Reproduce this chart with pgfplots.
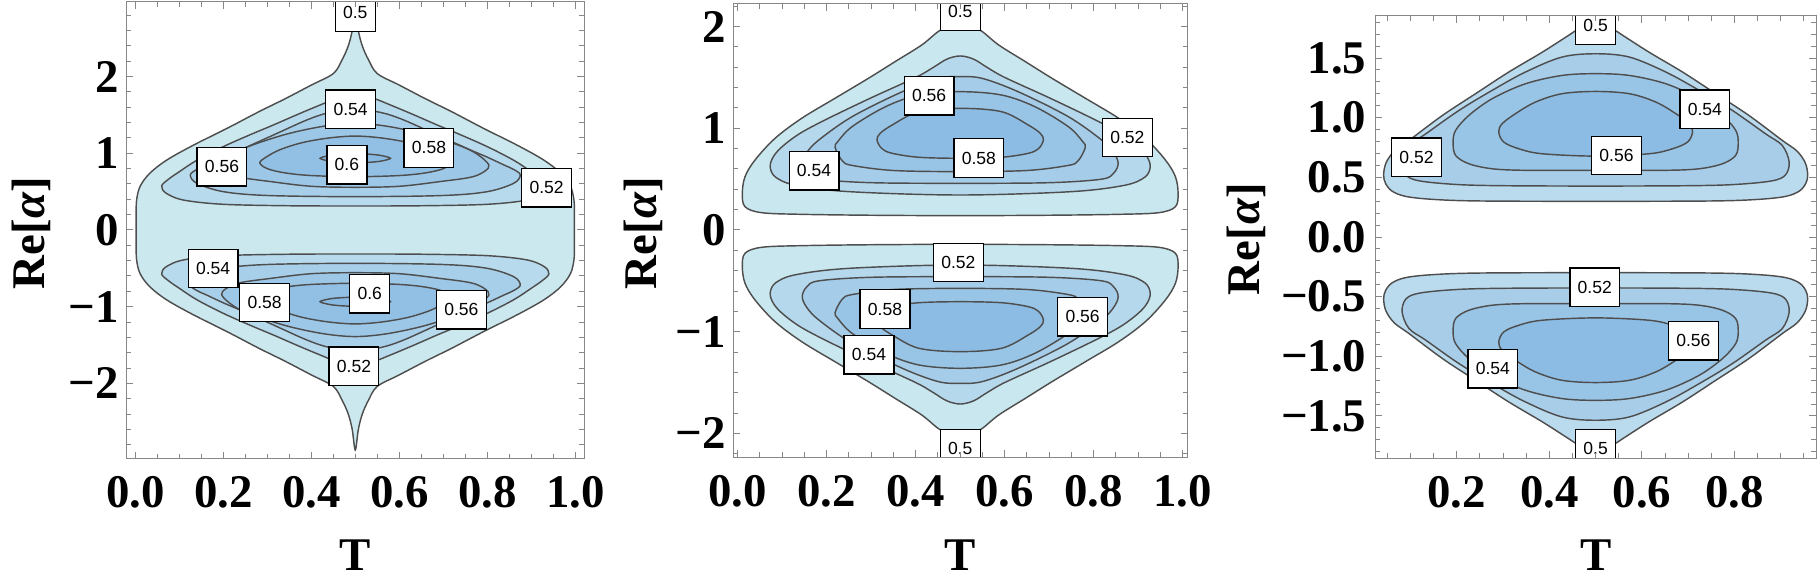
\documentclass[border=0pt]{standalone}
\usepackage{fontspec}
\setmainfont{Liberation Serif}
\newfontfamily\lblfont{Liberation Sans}
\usepackage{pgfplots}
\pgfplotsset{compat=1.18}

\definecolor{cl}{RGB}{78,78,78}
\definecolor{fr}{RGB}{135,135,135}
% panel 1
\definecolor{pa0}{RGB}{203,232,238}
\definecolor{pa1}{RGB}{183,218,237}
\definecolor{pa2}{RGB}{168,207,234}
\definecolor{pa3}{RGB}{156,199,231}
\definecolor{pa4}{RGB}{146,192,228}
\definecolor{pa5}{RGB}{136,185,226}
% panel 2
\definecolor{pb0}{RGB}{201,231,239}
\definecolor{pb1}{RGB}{181,216,236}
\definecolor{pb2}{RGB}{165,205,233}
\definecolor{pb3}{RGB}{152,196,230}
\definecolor{pb4}{RGB}{140,188,227}
% panel 3
\definecolor{pc0}{RGB}{186,218,238}
\definecolor{pc1}{RGB}{167,205,233}
\definecolor{pc2}{RGB}{152,196,230}
\definecolor{pc3}{RGB}{140,188,227}

\tikzset{lbl/.style={draw=black, fill=white, line width=0.65bp,
  font=\lblfont\fontsize{8.8}{10}\selectfont, inner xsep=3.9bp, inner ysep=0pt,
  minimum height=19.2bp}}

\pgfplotsset{
  cp/.style={
    scale only axis, anchor=south west,
    axis line style={fr, line width=0.5bp},
    every tick/.style={fr, line width=0.5bp},
    major tick length=3.5bp, minor tick length=2.5bp,
    tick align=inside,
    tick label style={font=\fontsize{23.5}{28}\selectfont\bfseries, inner sep=0pt},
    xticklabel style={anchor=center, yshift=-17bp},
    yticklabel style={anchor=east, xshift=-3.5bp},
    label style={font=\fontsize{23.5}{28}\selectfont\bfseries, inner sep=0pt},
    xlabel={T}, ylabel={Re[\textit{α}]},
    axis on top,
  },
  ctr/.style={draw=cl, line width=0.72bp, smooth cycle, tension=0.55, fill=#1},
}

\begin{document}
\begin{tikzpicture}
%================ Panel 1 ================
\begin{axis}[cp,
  at={(63bp,-229.35bp)}, width=229.15bp, height=228.6bp,
  xmin=-0.0211, xmax=1.0205, ymin=-2.983, ymax=2.980,
  xtick={0,0.2,0.4,0.6,0.8,1}, xticklabels={0.0,0.2,0.4,0.6,0.8,1.0},
  ytick={-2,-1,0,1,2}, yticklabels={−2,−1,0,1,2},
  minor xtick={0,0.05,...,1}, minor ytick={-2.8,-2.6,...,2.8},
  xlabel style={at={(axis description cs:0.5,-0.2106)}, anchor=center},
  ylabel style={at={(axis description cs:-0.2073,0.4937)}, anchor=center},
]
\addplot[ctr=pa0] coordinates {(0.5,2.88) (0.507,2.6) (0.516,2.4) (0.53,2.22) (0.55,2.04) (0.60,1.89) (0.66,1.71) (0.72,1.54) (0.79,1.33) (0.87,1.10) (0.929,0.91) (0.967,0.74) (0.989,0.57) (0.997,0.39) (0.998,0.2) (0.998,0) (0.998,-0.2) (0.997,-0.39) (0.989,-0.57) (0.967,-0.74) (0.929,-0.91) (0.87,-1.10) (0.79,-1.33) (0.72,-1.54) (0.66,-1.71) (0.60,-1.89) (0.55,-2.04) (0.53,-2.22) (0.516,-2.4) (0.507,-2.6) (0.5,-2.87) (0.493,-2.6) (0.484,-2.4) (0.47,-2.22) (0.45,-2.04) (0.40,-1.89) (0.34,-1.71) (0.28,-1.54) (0.21,-1.33) (0.13,-1.10) (0.071,-0.91) (0.033,-0.74) (0.011,-0.57) (0.003,-0.39) (0.002,-0.2) (0.002,0) (0.002,0.2) (0.003,0.39) (0.011,0.57) (0.033,0.74) (0.071,0.91) (0.13,1.10) (0.21,1.33) (0.28,1.54) (0.34,1.71) (0.40,1.89) (0.45,2.04) (0.47,2.22) (0.484,2.4) (0.493,2.6)};
% upper lobe
\addplot[ctr=pa1] coordinates {(0.060,0.574) (0.075,0.66) (0.10,0.76) (0.14,0.91) (0.20,1.087) (0.26,1.24) (0.314,1.37) (0.37,1.51) (0.42,1.63) (0.46,1.72) (0.5,1.765) (0.54,1.72) (0.58,1.63) (0.63,1.51) (0.686,1.37) (0.74,1.24) (0.80,1.087) (0.86,0.91) (0.90,0.76) (0.925,0.66) (0.940,0.574) (0.93,0.48) (0.89,0.39) (0.80,0.335) (0.65,0.316) (0.5,0.313) (0.35,0.316) (0.20,0.335) (0.11,0.39) (0.07,0.48)};
\addplot[ctr=pa2] coordinates {(0.125,0.717) (0.14,0.79) (0.162,0.848) (0.20,0.95) (0.238,1.043) (0.314,1.239) (0.39,1.435) (0.44,1.53) (0.5,1.575) (0.56,1.53) (0.61,1.435) (0.686,1.239) (0.762,1.043) (0.80,0.95) (0.838,0.848) (0.86,0.79) (0.875,0.717) (0.86,0.609) (0.80,0.50) (0.70,0.45) (0.5,0.435) (0.30,0.45) (0.20,0.50) (0.14,0.609)};
\addplot[ctr=pa3] coordinates {(0.198,0.804) (0.202,0.891) (0.232,1.021) (0.277,1.13) (0.35,1.26) (0.43,1.355) (0.5,1.39) (0.57,1.355) (0.65,1.26) (0.723,1.13) (0.768,1.021) (0.798,0.891) (0.802,0.804) (0.768,0.696) (0.692,0.631) (0.6,0.57) (0.5,0.557) (0.4,0.57) (0.308,0.631) (0.232,0.696)};
\addplot[ctr=pa4] coordinates {(0.283,0.878) (0.30,0.96) (0.33,1.05) (0.38,1.14) (0.44,1.20) (0.5,1.225) (0.56,1.20) (0.62,1.14) (0.67,1.05) (0.70,0.96) (0.717,0.878) (0.70,0.80) (0.66,0.745) (0.60,0.71) (0.5,0.695) (0.40,0.71) (0.34,0.745) (0.30,0.80)};
\addplot[ctr=pa5] coordinates {(0.42,0.935) (0.44,0.97) (0.465,0.987) (0.5,0.995) (0.535,0.987) (0.56,0.97) (0.58,0.935) (0.56,0.90) (0.535,0.884) (0.5,0.877) (0.465,0.884) (0.44,0.90)};
% lower lobe
\addplot[ctr=pa1] coordinates {(0.060,-0.574) (0.075,-0.66) (0.10,-0.76) (0.14,-0.91) (0.20,-1.087) (0.26,-1.24) (0.314,-1.37) (0.37,-1.51) (0.42,-1.63) (0.46,-1.72) (0.5,-1.765) (0.54,-1.72) (0.58,-1.63) (0.63,-1.51) (0.686,-1.37) (0.74,-1.24) (0.80,-1.087) (0.86,-0.91) (0.90,-0.76) (0.925,-0.66) (0.940,-0.574) (0.93,-0.48) (0.89,-0.39) (0.80,-0.335) (0.65,-0.316) (0.5,-0.313) (0.35,-0.316) (0.20,-0.335) (0.11,-0.39) (0.07,-0.48)};
\addplot[ctr=pa2] coordinates {(0.125,-0.717) (0.14,-0.79) (0.162,-0.848) (0.20,-0.95) (0.238,-1.043) (0.314,-1.239) (0.39,-1.435) (0.44,-1.53) (0.5,-1.575) (0.56,-1.53) (0.61,-1.435) (0.686,-1.239) (0.762,-1.043) (0.80,-0.95) (0.838,-0.848) (0.86,-0.79) (0.875,-0.717) (0.86,-0.609) (0.80,-0.50) (0.70,-0.45) (0.5,-0.435) (0.30,-0.45) (0.20,-0.50) (0.14,-0.609)};
\addplot[ctr=pa3] coordinates {(0.198,-0.804) (0.202,-0.891) (0.232,-1.021) (0.277,-1.13) (0.35,-1.26) (0.43,-1.355) (0.5,-1.39) (0.57,-1.355) (0.65,-1.26) (0.723,-1.13) (0.768,-1.021) (0.798,-0.891) (0.802,-0.804) (0.768,-0.696) (0.692,-0.631) (0.6,-0.57) (0.5,-0.557) (0.4,-0.57) (0.308,-0.631) (0.232,-0.696)};
\addplot[ctr=pa4] coordinates {(0.283,-0.878) (0.30,-0.96) (0.33,-1.05) (0.38,-1.14) (0.44,-1.20) (0.5,-1.225) (0.56,-1.20) (0.62,-1.14) (0.67,-1.05) (0.70,-0.96) (0.717,-0.878) (0.70,-0.80) (0.66,-0.745) (0.60,-0.71) (0.5,-0.695) (0.40,-0.71) (0.34,-0.745) (0.30,-0.80)};
\addplot[ctr=pa5] coordinates {(0.42,-0.935) (0.44,-0.97) (0.465,-0.987) (0.5,-0.995) (0.535,-0.987) (0.56,-0.97) (0.58,-0.935) (0.56,-0.90) (0.535,-0.884) (0.5,-0.877) (0.465,-0.884) (0.44,-0.90)};
\begin{scope}
\clip (rel axis cs:0,0) rectangle (rel axis cs:1,1);
\node[lbl] at (axis cs:0.5,2.84) {0.5};
\node[lbl] at (axis cs:0.4895,1.574) {0.54};
\node[lbl] at (axis cs:0.197,0.826) {0.56};
\node[lbl] at (axis cs:0.481,0.852) {0.6};
\node[lbl] at (axis cs:0.6675,1.07) {0.58};
\node[lbl] at (axis cs:0.935,0.552) {0.52};
\node[lbl] at (axis cs:0.177,-0.504) {0.54};
\node[lbl] at (axis cs:0.294,-0.945) {0.58};
\node[lbl] at (axis cs:0.533,-0.834) {0.6};
\node[lbl] at (axis cs:0.741,-1.042) {0.56};
\node[lbl] at (axis cs:0.497,-1.775) {0.52};
\end{scope}
\end{axis}

%================ Panel 2 ================
\begin{axis}[cp,
  at={(366.65bp,-228.65bp)}, width=227.2bp, height=226.65bp,
  xmin=-0.0099, xmax=1.0112, ymin=-2.235, ymax=2.222,
  xtick={0,0.2,0.4,0.6,0.8,1}, xticklabels={0.0,0.2,0.4,0.6,0.8,1.0},
  ytick={-2,-1,0,1,2}, yticklabels={−2,−1,0,1,2},
  minor xtick={0,0.05,...,1}, minor ytick={-2.2,-2.0,...,2.2},
  xlabel style={at={(axis description cs:0.5,-0.2155)}, anchor=center},
  ylabel style={at={(axis description cs:-0.1987,0.4948)}, anchor=center},
]
% upper lobe
\addplot[ctr=pb0] coordinates {(0.5,2.10) (0.525,2.01) (0.55,1.95) (0.5865,1.819) (0.6465,1.655) (0.7064,1.491) (0.7814,1.295) (0.8563,1.098) (0.9162,0.901) (0.9611,0.688) (0.9836,0.524) (0.9896,0.361) (0.9836,0.229) (0.946,0.170) (0.8563,0.154) (0.7,0.145) (0.5,0.141) (0.3,0.145) (0.1437,0.154) (0.054,0.170) (0.0164,0.229) (0.0104,0.361) (0.0164,0.524) (0.0389,0.688) (0.0838,0.901) (0.1437,1.098) (0.2186,1.295) (0.2936,1.491) (0.3535,1.655) (0.4135,1.819) (0.45,1.95) (0.475,2.01)};
\addplot[ctr=pb1] coordinates {(0.073,0.62) (0.08,0.72) (0.10,0.82) (0.14,0.95) (0.2,1.09) (0.3,1.30) (0.4,1.50) (0.44,1.60) (0.47,1.68) (0.5,1.711) (0.53,1.68) (0.56,1.60) (0.6,1.50) (0.7,1.30) (0.8,1.09) (0.86,0.95) (0.90,0.82) (0.92,0.72) (0.927,0.62) (0.915,0.52) (0.87,0.44) (0.75,0.377) (0.5,0.344) (0.25,0.377) (0.13,0.44) (0.085,0.52)};
\addplot[ctr=pb2] coordinates {(0.145,0.655) (0.155,0.76) (0.182,0.884) (0.257,1.114) (0.37,1.36) (0.45,1.49) (0.5,1.508) (0.55,1.49) (0.63,1.36) (0.743,1.114) (0.818,0.884) (0.845,0.76) (0.855,0.655) (0.845,0.56) (0.818,0.50) (0.7,0.465) (0.5,0.459) (0.3,0.465) (0.182,0.50) (0.155,0.56)};
\addplot[ctr=pb3] coordinates {(0.219,0.81) (0.225,0.87) (0.257,1.016) (0.332,1.212) (0.407,1.327) (0.5,1.36) (0.593,1.327) (0.668,1.212) (0.743,1.016) (0.775,0.87) (0.781,0.81) (0.765,0.68) (0.743,0.635) (0.65,0.585) (0.5,0.574) (0.35,0.585) (0.257,0.635) (0.235,0.68)};
\addplot[ctr=pb4] coordinates {(0.313,0.885) (0.32,0.95) (0.347,1.032) (0.407,1.163) (0.5,1.196) (0.593,1.163) (0.653,1.032) (0.680,0.95) (0.687,0.885) (0.676,0.80) (0.653,0.754) (0.593,0.715) (0.5,0.705) (0.407,0.715) (0.347,0.754) (0.324,0.80)};
% lower lobe
\addplot[ctr=pb0] coordinates {(0.5,-2.10) (0.525,-2.01) (0.55,-1.95) (0.5865,-1.819) (0.6465,-1.655) (0.7064,-1.491) (0.7814,-1.295) (0.8563,-1.098) (0.9162,-0.901) (0.9611,-0.688) (0.9836,-0.524) (0.9896,-0.361) (0.9836,-0.229) (0.946,-0.170) (0.8563,-0.154) (0.7,-0.145) (0.5,-0.141) (0.3,-0.145) (0.1437,-0.154) (0.054,-0.170) (0.0164,-0.229) (0.0104,-0.361) (0.0164,-0.524) (0.0389,-0.688) (0.0838,-0.901) (0.1437,-1.098) (0.2186,-1.295) (0.2936,-1.491) (0.3535,-1.655) (0.4135,-1.819) (0.45,-1.95) (0.475,-2.01)};
\addplot[ctr=pb1] coordinates {(0.073,-0.62) (0.08,-0.72) (0.10,-0.82) (0.14,-0.95) (0.2,-1.09) (0.3,-1.30) (0.4,-1.50) (0.44,-1.60) (0.47,-1.68) (0.5,-1.711) (0.53,-1.68) (0.56,-1.60) (0.6,-1.50) (0.7,-1.30) (0.8,-1.09) (0.86,-0.95) (0.90,-0.82) (0.92,-0.72) (0.927,-0.62) (0.915,-0.52) (0.87,-0.44) (0.75,-0.377) (0.5,-0.344) (0.25,-0.377) (0.13,-0.44) (0.085,-0.52)};
\addplot[ctr=pb2] coordinates {(0.145,-0.655) (0.155,-0.76) (0.182,-0.884) (0.257,-1.114) (0.37,-1.36) (0.45,-1.49) (0.5,-1.508) (0.55,-1.49) (0.63,-1.36) (0.743,-1.114) (0.818,-0.884) (0.845,-0.76) (0.855,-0.655) (0.845,-0.56) (0.818,-0.50) (0.7,-0.465) (0.5,-0.459) (0.3,-0.465) (0.182,-0.50) (0.155,-0.56)};
\addplot[ctr=pb3] coordinates {(0.219,-0.81) (0.225,-0.87) (0.257,-1.016) (0.332,-1.212) (0.407,-1.327) (0.5,-1.36) (0.593,-1.327) (0.668,-1.212) (0.743,-1.016) (0.775,-0.87) (0.781,-0.81) (0.765,-0.68) (0.743,-0.635) (0.65,-0.585) (0.5,-0.574) (0.35,-0.585) (0.257,-0.635) (0.235,-0.68)};
\addplot[ctr=pb4] coordinates {(0.313,-0.885) (0.32,-0.95) (0.347,-1.032) (0.407,-1.163) (0.5,-1.196) (0.593,-1.163) (0.653,-1.032) (0.680,-0.95) (0.687,-0.885) (0.676,-0.80) (0.653,-0.754) (0.593,-0.715) (0.5,-0.705) (0.407,-0.715) (0.347,-0.754) (0.324,-0.80)};
\begin{scope}
\clip (rel axis cs:0,0) rectangle (rel axis cs:1,1);
\node[lbl] at (axis cs:0.5,2.15) {0.5};
\node[lbl] at (axis cs:0.43,1.318) {0.56};
\node[lbl] at (axis cs:0.1715,0.583) {0.54};
\node[lbl] at (axis cs:0.542,0.708) {0.58};
\node[lbl] at (axis cs:0.8755,0.908) {0.52};
\node[lbl] at (axis cs:0.496,-0.321) {0.52};
\node[lbl] at (axis cs:0.331,-0.777) {0.58};
\node[lbl] at (axis cs:0.775,-0.854) {0.56};
\node[lbl] at (axis cs:0.295,-1.226) {0.54};
\node[lbl] at (axis cs:0.5,-2.15) {0.5};
\end{scope}
\end{axis}

%================ Panel 3 ================
\begin{axis}[cp,
  at={(687.65bp,-229.15bp)}, width=220.35bp, height=221.3bp,
  xmin=0.024, xmax=0.976, ymin=-1.855, ymax=1.855,
  xtick={0.2,0.4,0.6,0.8}, xticklabels={0.2,0.4,0.6,0.8},
  ytick={-1.5,-1,-0.5,0,0.5,1,1.5}, yticklabels={−1.5,−1.0,−0.5,0.0,0.5,1.0,1.5},
  minor xtick={0.05,0.1,...,0.95}, minor ytick={-1.8,-1.7,...,1.8},
  yticklabel style={xshift=-0.8bp},
  xlabel style={at={(axis description cs:0.5,-0.2185)}, anchor=center},
  ylabel style={at={(axis description cs:-0.2934,0.4955)}, anchor=center},
]
% upper lobe
\addplot[ctr=pc0] coordinates {(0.5,1.80) (0.54,1.735) (0.559,1.689) (0.6154,1.549) (0.688,1.382) (0.7595,1.201) (0.831,1.019) (0.903,0.81) (0.935,0.72) (0.953,0.62) (0.958,0.52) (0.954,0.45) (0.94,0.385) (0.91,0.34) (0.85,0.315) (0.75,0.302) (0.5,0.299) (0.25,0.302) (0.15,0.315) (0.09,0.34) (0.06,0.385) (0.046,0.45) (0.042,0.52) (0.047,0.62) (0.065,0.72) (0.097,0.81) (0.169,1.019) (0.2405,1.201) (0.312,1.382) (0.3846,1.549) (0.441,1.689) (0.46,1.735)};
\addplot[ctr=pc1] coordinates {(0.082,0.63) (0.097,0.768) (0.133,0.865) (0.2047,1.061) (0.2763,1.229) (0.348,1.382) (0.427,1.508) (0.5,1.536) (0.573,1.508) (0.652,1.382) (0.7237,1.229) (0.7953,1.061) (0.867,0.865) (0.903,0.768) (0.918,0.63) (0.91,0.52) (0.88,0.47) (0.8,0.44) (0.7,0.43) (0.5,0.427) (0.3,0.43) (0.2,0.44) (0.12,0.47) (0.09,0.52)};
\addplot[ctr=pc2] coordinates {(0.192,0.79) (0.1975,0.894) (0.226,1.019) (0.2763,1.159) (0.348,1.284) (0.427,1.354) (0.5,1.369) (0.573,1.354) (0.652,1.284) (0.7237,1.159) (0.774,1.019) (0.8025,0.894) (0.808,0.79) (0.8025,0.684) (0.774,0.614) (0.7237,0.572) (0.652,0.559) (0.5,0.559) (0.348,0.559) (0.2763,0.572) (0.226,0.614) (0.1975,0.684)};
\addplot[ctr=pc3] coordinates {(0.2907,0.88) (0.2979,0.949) (0.3265,1.033) (0.37,1.131) (0.427,1.201) (0.5,1.22) (0.573,1.201) (0.63,1.131) (0.6735,1.033) (0.7021,0.949) (0.7093,0.88) (0.6986,0.796) (0.6663,0.74) (0.6161,0.698) (0.5,0.678) (0.3839,0.698) (0.3337,0.74) (0.3014,0.796)};
% lower lobe
\addplot[ctr=pc0] coordinates {(0.5,-1.80) (0.54,-1.735) (0.559,-1.689) (0.6154,-1.549) (0.688,-1.382) (0.7595,-1.201) (0.831,-1.019) (0.903,-0.81) (0.935,-0.72) (0.953,-0.62) (0.958,-0.52) (0.954,-0.45) (0.94,-0.385) (0.91,-0.34) (0.85,-0.315) (0.75,-0.302) (0.5,-0.299) (0.25,-0.302) (0.15,-0.315) (0.09,-0.34) (0.06,-0.385) (0.046,-0.45) (0.042,-0.52) (0.047,-0.62) (0.065,-0.72) (0.097,-0.81) (0.169,-1.019) (0.2405,-1.201) (0.312,-1.382) (0.3846,-1.549) (0.441,-1.689) (0.46,-1.735)};
\addplot[ctr=pc1] coordinates {(0.082,-0.63) (0.097,-0.768) (0.133,-0.865) (0.2047,-1.061) (0.2763,-1.229) (0.348,-1.382) (0.427,-1.508) (0.5,-1.536) (0.573,-1.508) (0.652,-1.382) (0.7237,-1.229) (0.7953,-1.061) (0.867,-0.865) (0.903,-0.768) (0.918,-0.63) (0.91,-0.52) (0.88,-0.47) (0.8,-0.44) (0.7,-0.43) (0.5,-0.427) (0.3,-0.43) (0.2,-0.44) (0.12,-0.47) (0.09,-0.52)};
\addplot[ctr=pc2] coordinates {(0.192,-0.79) (0.1975,-0.894) (0.226,-1.019) (0.2763,-1.159) (0.348,-1.284) (0.427,-1.354) (0.5,-1.369) (0.573,-1.354) (0.652,-1.284) (0.7237,-1.159) (0.774,-1.019) (0.8025,-0.894) (0.808,-0.79) (0.8025,-0.684) (0.774,-0.614) (0.7237,-0.572) (0.652,-0.559) (0.5,-0.559) (0.348,-0.559) (0.2763,-0.572) (0.226,-0.614) (0.1975,-0.684)};
\addplot[ctr=pc3] coordinates {(0.2907,-0.88) (0.2979,-0.949) (0.3265,-1.033) (0.37,-1.131) (0.427,-1.201) (0.5,-1.22) (0.573,-1.201) (0.63,-1.131) (0.6735,-1.033) (0.7021,-0.949) (0.7093,-0.88) (0.6986,-0.796) (0.6663,-0.74) (0.6161,-0.698) (0.5,-0.678) (0.3839,-0.698) (0.3337,-0.74) (0.3014,-0.796)};
\begin{scope}
\clip (rel axis cs:0,0) rectangle (rel axis cs:1,1);
\node[lbl] at (axis cs:0.5,1.775) {0.5};
\node[lbl] at (axis cs:0.113,0.668) {0.52};
\node[lbl] at (axis cs:0.736,1.07) {0.54};
\node[lbl] at (axis cs:0.545,0.682) {0.56};
\node[lbl] at (axis cs:0.498,-0.421) {0.52};
\node[lbl] at (axis cs:0.711,-0.87) {0.56};
\node[lbl] at (axis cs:0.278,-1.105) {0.54};
\node[lbl] at (axis cs:0.5,-1.775) {0.5};
\end{scope}
\end{axis}

\pgfresetboundingbox
\useasboundingbox (0bp,0bp) rectangle (910bp,-291.5bp);
\end{tikzpicture}
\end{document}
